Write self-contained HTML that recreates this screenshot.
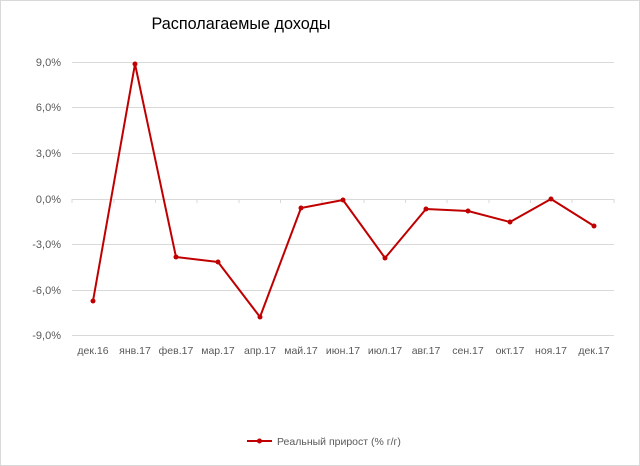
<!DOCTYPE html><html><head><meta charset="utf-8"><style>
body{margin:0;background:#fff}
svg{display:block;font-family:"Liberation Sans",sans-serif}
</style></head><body>
<svg width="640" height="466" viewBox="0 0 640 466">
<rect x="0.5" y="0.5" width="639" height="465" fill="#fff" stroke="#d9d9d9"/>
<text x="241" y="29" font-size="16.2" text-anchor="middle" fill="#000">Располагаемые доходы</text>
<g stroke="#d9d9d9" stroke-width="1">
<line x1="72" x2="614" y1="62.5" y2="62.5"/>
<line x1="72" x2="614" y1="107.5" y2="107.5"/>
<line x1="72" x2="614" y1="153.5" y2="153.5"/>
<line x1="72" x2="614" y1="244.5" y2="244.5"/>
<line x1="72" x2="614" y1="290.5" y2="290.5"/>
<line x1="72" x2="614" y1="335.5" y2="335.5"/>
<line x1="72" x2="614" y1="199.5" y2="199.5"/>
</g>
<g stroke="#d9d9d9"><path d="M72 199v4M114 199v4M155.5 199v4M197 199v4M239 199v4M280.5 199v4M322 199v4M364 199v4M405.5 199v4M447 199v4M489 199v4M530.5 199v4M572 199v4M614 199v4"/></g>
<g font-size="11" fill="#595959" text-anchor="end">
<text x="61" y="66">9,0%</text><text x="61" y="111">6,0%</text><text x="61" y="157">3,0%</text>
<text x="61" y="203">0,0%</text><text x="61" y="248">-3,0%</text><text x="61" y="294">-6,0%</text><text x="61" y="339">-9,0%</text>
</g>
<g font-size="10.5" fill="#595959" text-anchor="middle">
<text x="93" y="354">дек.16</text><text x="135" y="354">янв.17</text><text x="176" y="354">фев.17</text>
<text x="218" y="354">мар.17</text><text x="260" y="354">апр.17</text><text x="301" y="354">май.17</text>
<text x="343" y="354">июн.17</text><text x="385" y="354">июл.17</text><text x="426" y="354">авг.17</text>
<text x="468" y="354">сен.17</text><text x="510" y="354">окт.17</text><text x="551" y="354">ноя.17</text><text x="594" y="354">дек.17</text>
</g>
<polyline fill="none" stroke="#c00000" stroke-width="2" stroke-linejoin="round" points="93,301 135,64 176,257 218,262 260,317 301,208 343,200 385,258 426,209 468,211 510,222 551,199 594,226"/>
<g fill="#c00000">
<circle cx="93" cy="301" r="2.5"/><circle cx="135" cy="64" r="2.5"/><circle cx="176" cy="257" r="2.5"/><circle cx="218" cy="262" r="2.5"/><circle cx="260" cy="317" r="2.5"/><circle cx="301" cy="208" r="2.5"/><circle cx="343" cy="200" r="2.5"/><circle cx="385" cy="258" r="2.5"/><circle cx="426" cy="209" r="2.5"/><circle cx="468" cy="211" r="2.5"/><circle cx="510" cy="222" r="2.5"/><circle cx="551" cy="199" r="2.5"/><circle cx="594" cy="226" r="2.5"/>
</g>
<line x1="247" x2="272" y1="441" y2="441" stroke="#c00000" stroke-width="2"/>
<circle cx="259.5" cy="441" r="2.5" fill="#c00000"/>
<text x="277" y="445" font-size="10.5" fill="#595959">Реальный прирост (% г/г)</text>
</svg>
</body></html>
